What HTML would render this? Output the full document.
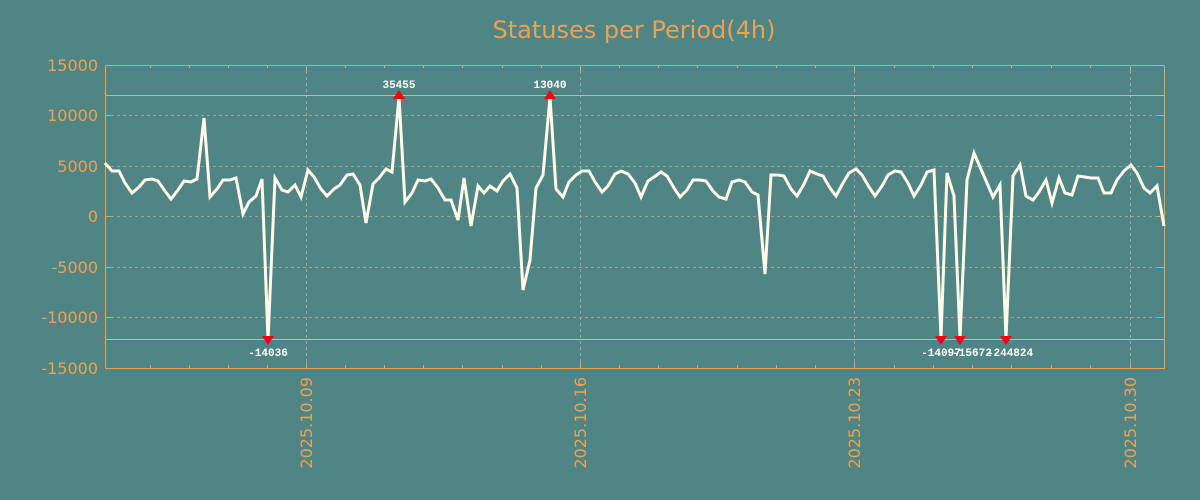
<!DOCTYPE html>
<html><head><meta charset="utf-8"><style>
html,body{margin:0;padding:0;background:#4f8584;}
svg{display:block;font-family:"DejaVu Sans","Liberation Sans",sans-serif;}
</style></head><body>
<svg width="1200" height="500" viewBox="0 0 1200 500" xmlns="http://www.w3.org/2000/svg">
<rect width="1200" height="500" fill="#4f8584"/>
<text x="634" y="38" text-anchor="middle" font-size="24" fill="#f0a050">Statuses per Period(4h)</text>
<g stroke="#b8a890" stroke-width="1" stroke-dasharray="3,3" opacity="0.8">
<line x1="105" x2="1164" y1="115.5" y2="115.5"/>
<line x1="105" x2="1164" y1="166.5" y2="166.5"/>
<line x1="105" x2="1164" y1="216.5" y2="216.5"/>
<line x1="105" x2="1164" y1="267.5" y2="267.5"/>
<line x1="105" x2="1164" y1="317.5" y2="317.5"/>
<line x1="306.5" x2="306.5" y1="65" y2="368"/>
<line x1="580.5" x2="580.5" y1="65" y2="368"/>
<line x1="854.5" x2="854.5" y1="65" y2="368"/>
<line x1="1130.5" x2="1130.5" y1="65" y2="368"/>
</g>
<g stroke="#e0b080" stroke-width="1">
<line x1="105" x2="1164" y1="95.5" y2="95.5"/>
<line x1="105" x2="1164" y1="339.5" y2="339.5"/>
</g>
<rect x="105.5" y="65.5" width="1059" height="303" fill="none" stroke="#f0a050" stroke-width="1"/>
<g stroke="#f0a050" stroke-width="1">
<line x1="105" x2="111" y1="115.5" y2="115.5"/><line x1="105" x2="111" y1="166.5" y2="166.5"/><line x1="105" x2="111" y1="216.5" y2="216.5"/><line x1="105" x2="111" y1="267.5" y2="267.5"/><line x1="105" x2="111" y1="317.5" y2="317.5"/>
<line x1="1158" x2="1164" y1="115.5" y2="115.5"/><line x1="1158" x2="1164" y1="166.5" y2="166.5"/><line x1="1158" x2="1164" y1="216.5" y2="216.5"/><line x1="1158" x2="1164" y1="267.5" y2="267.5"/><line x1="1158" x2="1164" y1="317.5" y2="317.5"/>
</g>
<g stroke="#f0a050" stroke-width="1">
<path d="M150.5 368v-3M189.5 368v-3M228.5 368v-3M267.5 368v-3M306.5 368v-6M345.5 368v-3M384.5 368v-3M423.5 368v-3M462.5 368v-3M502.5 368v-3M541.5 368v-3M580.5 368v-6M619.5 368v-3M658.5 368v-3M697.5 368v-3M737.5 368v-3M776.5 368v-3M815.5 368v-3M854.5 368v-6M894.5 368v-3M933.5 368v-3M972.5 368v-3M1011.5 368v-3M1051.5 368v-3M1090.5 368v-3M1130.5 368v-6"/>
<path d="M150.5 65v3M189.5 65v3M228.5 65v3M267.5 65v3M306.5 65v6M345.5 65v3M384.5 65v3M423.5 65v3M462.5 65v3M502.5 65v3M541.5 65v3M580.5 65v6M619.5 65v3M658.5 65v3M697.5 65v3M737.5 65v3M776.5 65v3M815.5 65v3M854.5 65v6M894.5 65v3M933.5 65v3M972.5 65v3M1011.5 65v3M1051.5 65v3M1090.5 65v3M1130.5 65v6"/>
</g>
<g font-size="16" fill="#f0a050" text-anchor="end">
<text x="98" y="71">15000</text><text x="98" y="121">10000</text><text x="98" y="172">5000</text><text x="98" y="222">0</text><text x="98" y="273">-5000</text><text x="98" y="323">-10000</text><text x="98" y="374">-15000</text>
</g>
<g font-size="16" fill="#f0a050" text-anchor="end">
<text transform="translate(312,377) rotate(-90)">2025.10.09</text>
<text transform="translate(586,377) rotate(-90)">2025.10.16</text>
<text transform="translate(860,377) rotate(-90)">2025.10.23</text>
<text transform="translate(1136,377) rotate(-90)">2025.10.30</text>
</g>
<polyline fill="none" stroke="#fffbe8" stroke-width="3" stroke-linejoin="miter" points="105,163 112,171 119,171 125,183 132,193 139,187 145,180 152,179 158,181 165,191 171,199 178,190 184,181 191,182 197,179 204,118 210,197 217,189 223,180 230,180 236,178 243,214 249,202 256,196 262,179 268,340 275,178 282,190 288,192 295,185 301,197 308,170 314,177 321,189 327,196 334,189 340,185 347,175 353,174 360,185 366,223 373,184 379,178 386,169 392,172 399,97 405,202 412,193 418,180 425,181 431,179 438,188 445,200 451,200 458,220 464,178 471,226 478,186 484,193 490,186 497,191 503,181 510,174 517,188 523,290 530,260 536,188 543,175 550,97 556,189 563,197 569,182 576,175 582,171 589,171 595,182 602,192 608,186 615,174 621,171 628,174 635,183 641,197 648,181 654,177 661,172 667,176 674,188 680,197 687,190 693,180 700,180 706,181 713,191 719,197 726,199 732,182 739,180 745,182 752,192 758,195 765,274 771,175 778,175 784,176 791,189 797,196 804,184 810,171 817,174 823,176 830,188 836,196 843,183 849,173 856,169 862,175 869,187 875,196 882,186 888,175 895,171 901,172 908,183 914,196 921,185 927,172 934,170 941,338 947,173 954,196 960,338 967,180 974,153 980,167 987,183 993,197 1000,185 1006,338 1013,176 1020,165 1026,196 1033,200 1039,192 1046,180 1052,203 1059,178 1065,193 1072,195 1078,176 1085,177 1091,178 1098,178 1104,193 1111,193 1117,180 1124,171 1131,165 1137,173 1144,188 1150,193 1157,186 1164,226"/>
<g fill="#ff0000">
<path d="M393,99h12l-6,-9z"/><path d="M544,99h12l-6,-9z"/>
<path d="M262,336h12l-6,9z"/><path d="M935,336h12l-6,9z"/><path d="M954,336h12l-6,9z"/><path d="M1000,336h12l-6,9z"/>
</g>
<g font-family="'Liberation Mono','DejaVu Sans Mono',monospace" font-size="11" font-weight="bold" fill="#ffffff" text-anchor="middle">
<text x="399" y="88">35455</text><text x="550" y="88">13040</text>
<text x="268" y="356">-14036</text><text x="941" y="356">-14097</text><text x="972" y="356">-15672</text><text x="1010" y="356">-244824</text>
</g>
</svg>
</body></html>
